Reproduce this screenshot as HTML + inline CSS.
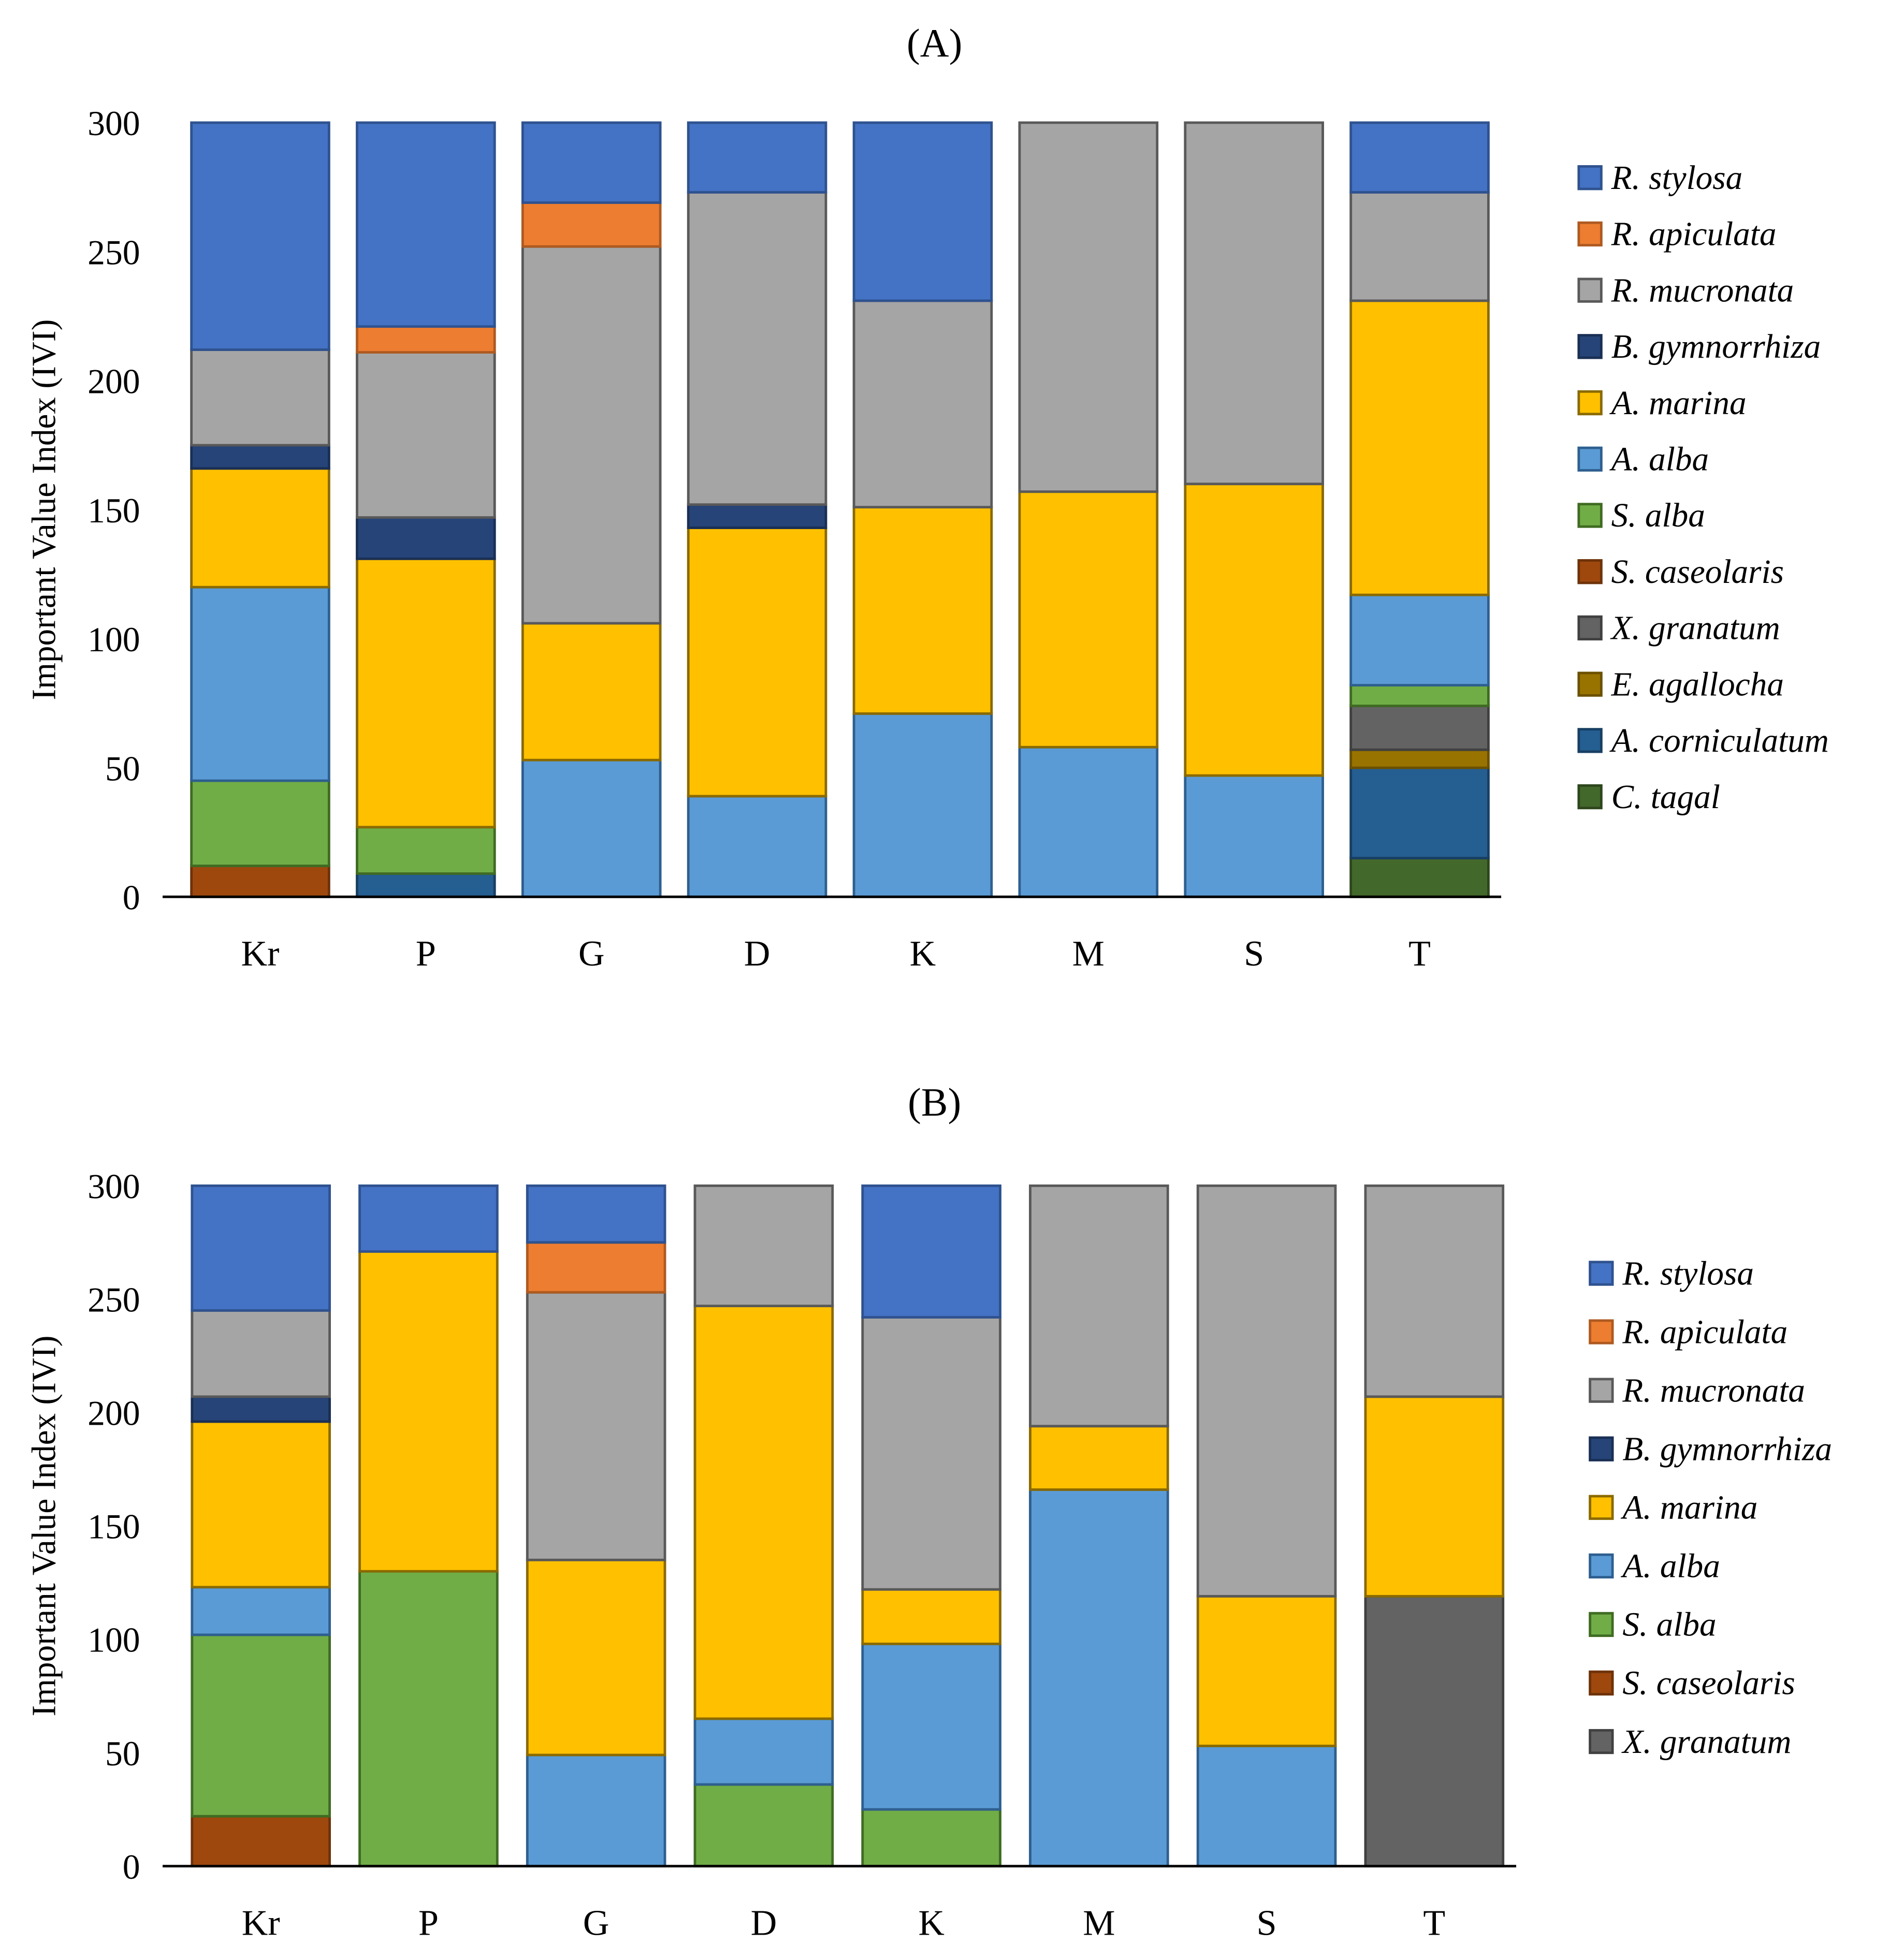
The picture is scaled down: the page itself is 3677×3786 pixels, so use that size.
<!DOCTYPE html>
<html><head><meta charset="utf-8"><style>
html,body{margin:0;padding:0;background:#fff;}
svg{display:block;}
text{font-family:"Liberation Serif",serif;fill:#000;}
</style></head><body>
<svg id="chart" width="3677" height="3786" viewBox="0 0 1522 1567" xmlns="http://www.w3.org/2000/svg"></svg>
<script>
const categories = ["Kr","P","G","D","K","M","S","T"];
const speciesA = ["R. stylosa","R. apiculata","R. mucronata","B. gymnorrhiza","A. marina","A. alba","S. alba","S. caseolaris","X. granatum","E. agallocha","A. corniculatum","C. tagal"];
const speciesB = ["R. stylosa","R. apiculata","R. mucronata","B. gymnorrhiza","A. marina","A. alba","S. alba","S. caseolaris","X. granatum"];
const stackOrder = ["C. tagal","A. corniculatum","E. agallocha","X. granatum","S. caseolaris","S. alba","A. alba","A. marina","B. gymnorrhiza","R. mucronata","R. apiculata","R. stylosa"];
const yTicks = [0,50,100,150,200,250,300];
const fills = {"R. stylosa":"#4472c4","R. apiculata":"#ed7d31","R. mucronata":"#a5a5a5","B. gymnorrhiza":"#264478","A. marina":"#ffc000","A. alba":"#5b9bd5","S. alba":"#70ad47","S. caseolaris":"#9e480e","X. granatum":"#636363","E. agallocha":"#997300","A. corniculatum":"#255e91","C. tagal":"#43682b"};
const strokes = {"R. stylosa":"#2f528f","R. apiculata":"#ae5a21","R. mucronata":"#595959","B. gymnorrhiza":"#1a2f54","A. marina":"#8a6a00","A. alba":"#2e5f8f","S. alba":"#3f6b22","S. caseolaris":"#6e320a","X. granatum":"#404040","E. agallocha":"#6b5000","A. corniculatum":"#183f63","C. tagal":"#2d461d"};
const dataA = {
 "C. tagal":       [0,0,0,0,0,0,0,15],
 "A. corniculatum":[0,9,0,0,0,0,0,35],
 "E. agallocha":   [0,0,0,0,0,0,0,7],
 "X. granatum":    [0,0,0,0,0,0,0,17],
 "S. caseolaris":  [12,0,0,0,0,0,0,0],
 "S. alba":        [33,18,0,0,0,0,0,8],
 "A. alba":        [75,0,53,39,71,58,47,35],
 "A. marina":      [46,104,53,104,80,99,113,114],
 "B. gymnorrhiza": [9,16,0,9,0,0,0,0],
 "R. mucronata":   [37,64,146,121,80,143,140,42],
 "R. apiculata":   [0,10,17,0,0,0,0,0],
 "R. stylosa":     [88,79,31,27,69,0,0,27]
};
const dataB = {
 "X. granatum":    [0,0,0,0,0,0,0,119],
 "S. caseolaris":  [22,0,0,0,0,0,0,0],
 "S. alba":        [80,130,0,36,25,0,0,0],
 "A. alba":        [21,0,49,29,73,166,53,0],
 "A. marina":      [73,141,86,182,24,28,66,88],
 "B. gymnorrhiza": [11,0,0,0,0,0,0,0],
 "R. mucronata":   [38,0,118,53,120,106,181,93],
 "R. apiculata":   [0,0,22,0,0,0,0,0],
 "R. stylosa":     [55,29,25,0,58,0,0,0]
};
const NS="http://www.w3.org/2000/svg";
const svg=document.getElementById('chart');
function mk(tag,attrs,parent){const e=document.createElementNS(NS,tag);for(const k in attrs)e.setAttribute(k,attrs[k]);(parent||svg).appendChild(e);return e;}

function panel(cfg){
 const g=mk('g',{});
 
 
 const y=v=>cfg.y0-(v/300)*(cfg.y0-cfg.y300);
 const xc=i=>cfg.c0+i*cfg.step;
 const t=mk('text',{x:747,y:cfg.titleY,'font-size':32,'text-anchor':'middle'},g);t.textContent=cfg.title;
 
 
 yTicks.forEach(v=>{const tt=mk('text',{x:112,y:y(v)+10,'font-size':28,'text-anchor':'end'},g);tt.textContent=v;
  
  });
 const yt=mk('text',{transform:`translate(44,${(cfg.y0+cfg.y300)/2}) rotate(-90)`,'font-size':27,'text-anchor':'middle'},g);
 yt.textContent='Important Value Index (IVI)';
 
 
 const data=cfg.data;
 categories.forEach((c,i)=>{
  let cum=0;
  stackOrder.forEach(sp=>{
   if(!data[sp])return;const v=data[sp][i];if(!v)return;
   const r=mk('rect',{x:xc(i)-55,y:y(cum+v),width:110,height:y(cum)-y(cum+v),fill:fills[sp],stroke:strokes[sp],'stroke-width':2},g);
   
   
   cum+=v;
  });
  const xl=mk('text',{x:xc(i),y:cfg.xLabelY,'font-size':29,'text-anchor':'middle'},g);xl.textContent=c;
  
  
 });
 const ax=mk('line',{x1:130,x2:cfg.axEnd,y1:cfg.y0,y2:cfg.y0,stroke:'#000','stroke-width':2},g);
 
 
 cfg.species.forEach((sp,k)=>{
  const ly=cfg.legY+k*cfg.legStep;
  const r=mk('rect',{x:cfg.legX,y:ly-9,width:18,height:18,fill:fills[sp],stroke:strokes[sp],'stroke-width':2},g);
  
  
  const lt=mk('text',{x:cfg.legX+26,y:ly+9,'font-size':27,'font-style':'italic'},g);lt.textContent=sp;
  
  
 });
}
panel({name:'panel-a',title:'(A)',titleY:45,data:dataA,species:speciesA,y0:717,y300:98,c0:208,step:132.4,axEnd:1200,xLabelY:772,legX:1262,legY:142,legStep:45});
panel({name:'panel-b',title:'(B)',titleY:892,data:dataB,species:speciesB,y0:1492,y300:948,c0:208.5,step:134,axEnd:1212,xLabelY:1547,legX:1271,legY:1018,legStep:46.8});
</script>
</body></html>
